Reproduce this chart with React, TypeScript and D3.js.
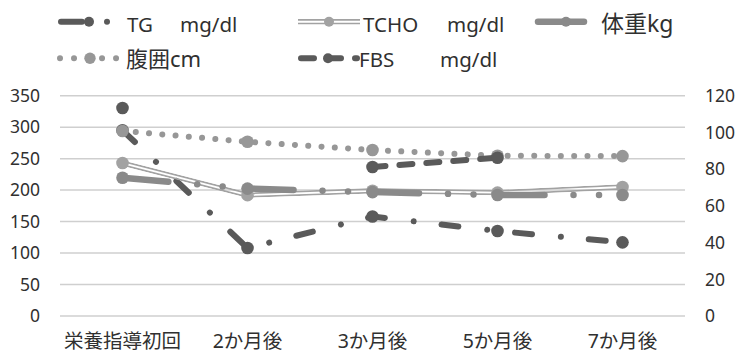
import React from "react";
import * as d3 from "d3";

// x categories and series values
const categories = ["栄養指導初回", "2か月後", "3か月後", "5か月後", "7か月後"];
const tgValues = [295, 108, 158, 135, 117]; // left axis
const tchoValues = [243, 192, 199, 196, 205]; // left axis
const weightValues = [75.3, 69.4, 67.5, 65.9, 65.9]; // right axis
const waistValues = [100.8, 94.9, 90.4, 87.3, 87.1]; // right axis
const fbsValues: (number | null)[] = [113.3, null, 81.2, 86.2, null]; // right axis
const leftTicks = [0, 50, 100, 150, 200, 250, 300, 350];
const rightTicks = [0, 20, 40, 60, 80, 100, 120];

const W = 736;
const H = 355;
const plot = { left: 60, right: 685, top: 95.7, bottom: 316 };

const DARK = "#5a5a5a";
const TCHO_C = "#a2a2a2";
const WEIGHT_C = "#8a8a8a";
const WAIST_C = "#979797";
const TEXT_C = "#303030";
const FONT = "'Noto Sans', 'Noto Sans CJK JP', sans-serif";

type Series = {
  key: string;
  values: (number | null)[];
  axis: "left" | "right";
  color: string;
  width: number;
  dash: string | null;
  double?: boolean;
};

// drawing order as in the original (primary axis first)
const series: Series[] = [
  { key: "tg", values: tgValues, axis: "left", color: DARK, width: 6, dash: "17 29 0.01 28" },
  { key: "tcho", values: tchoValues, axis: "left", color: TCHO_C, width: 5, dash: null, double: true },
  { key: "weight", values: weightValues, axis: "right", color: WEIGHT_C, width: 6.5, dash: "46 29 0.01 25.5 0.01 25" },
  { key: "waist", values: waistValues, axis: "right", color: WAIST_C, width: 6, dash: "0.01 13.3" },
  { key: "fbs", values: fbsValues, axis: "right", color: DARK, width: 6, dash: "13 14" },
];

function DoubleLine({ id, d, color }: { id: string; d: string; color: string }) {
  return (
    <g>
      <mask id={id} maskUnits="userSpaceOnUse" x={0} y={0} width={W} height={H}>
        <path d={d} fill="none" stroke="white" strokeWidth={5.4} strokeLinejoin="round" />
        <path d={d} fill="none" stroke="black" strokeWidth={1.9} strokeLinejoin="round" />
      </mask>
      <path d={d} fill="none" stroke={color} strokeWidth={5.4} strokeLinejoin="round" mask={`url(#${id})`} />
    </g>
  );
}

export default function App() {
  const x = d3.scaleBand<string>().domain(categories).range([plot.left, plot.right]);
  const cx = (i: number) => (x(categories[i]) as number) + x.bandwidth() / 2;
  const yLeft = d3.scaleLinear().domain([0, 350]).range([plot.bottom, plot.top]);
  const yRight = d3.scaleLinear().domain([0, 120]).range([plot.bottom, plot.top]);

  const lineFor = (s: Series) => {
    const y = s.axis === "left" ? yLeft : yRight;
    return d3
      .line<number | null>()
      .defined((v) => v != null)
      .x((_, i) => cx(i))
      .y((v) => y(v as number))(s.values) as string;
  };

  // legend entries
  const legend = [
    { s: series[0], x1: 61, x2: 117, y: 21.7, mx: 89, dash: "21 25 0.01 40", r: 5, texts: [["TG", 127], ["mg/dl", 180]], size: 20.5, ty: 32 },
    { s: series[1], x1: 298, x2: 360, y: 21.7, mx: 329, dash: null, r: 5, texts: [["TCHO", 363], ["mg/dl", 447]], size: 20.5, ty: 32 },
    { s: series[2], x1: 538, x2: 590, y: 21.7, mx: 566, dash: "46 29 0.01 25", r: 5, texts: [["体重kg", 601]], size: 23, ty: 32 },
    { s: series[3], x1: 60, x2: 117, y: 58.3, mx: 90, dash: "0.01 14", r: 5.7, texts: [["腹囲cm", 126]], size: 22, ty: 66.5 },
    { s: series[4], x1: 301, x2: 357, y: 58.3, mx: 328, dash: "13 14", r: 5, texts: [["FBS", 359], ["mg/dl", 440]], size: 20.5, ty: 66.5 },
  ];

  return (
    <svg width={W} height={H} style={{ position: "absolute", left: 0, top: 0, background: "#fff" }} fontFamily={FONT}>
      <rect width={W} height={H} fill="#fff" />

      {/* gridlines */}
      {leftTicks.map((t) => (
        <line key={t} x1={plot.left} x2={plot.right} y1={yLeft(t)} y2={yLeft(t)} stroke="#cfcfcf" strokeWidth={1.5} />
      ))}

      {/* left axis labels */}
      {leftTicks.map((t) => (
        <text key={t} x={40} y={yLeft(t)} dy="0.36em" textAnchor="end" fontSize={17.5} fill={TEXT_C}>
          {t}
        </text>
      ))}
      {/* right axis labels */}
      {rightTicks.map((t) => (
        <text key={t} x={705} y={yRight(t)} dy="0.36em" textAnchor="start" fontSize={17.5} fill={TEXT_C}>
          {t}
        </text>
      ))}
      {/* category labels */}
      {categories.map((c, i) => (
        <text key={c} x={cx(i)} y={348} textAnchor="middle" fontSize={19.5} fill={TEXT_C}>
          {c}
        </text>
      ))}

      {/* series */}
      {series.map((s) => {
        const y = s.axis === "left" ? yLeft : yRight;
        const d = lineFor(s);
        return (
          <g key={s.key}>
            {s.double ? (
              <DoubleLine id={`dbl-${s.key}`} d={d} color={s.color} />
            ) : (
              <path
                d={d}
                fill="none"
                stroke={s.color}
                strokeWidth={s.width}
                strokeDasharray={s.dash ?? undefined}
                strokeLinecap="round"
                strokeLinejoin="round"
              />
            )}
            {s.values.map((v, i) =>
              v == null ? null : <circle key={i} cx={cx(i)} cy={y(v)} r={6.3} fill={s.color} />
            )}
          </g>
        );
      })}

      {/* legend */}
      {legend.map((l) => {
        const d = `M${l.x1},${l.y}L${l.x2},${l.y}`;
        return (
          <g key={l.s.key}>
            {l.s.double ? (
              <DoubleLine id={`leg-${l.s.key}`} d={d} color={l.s.color} />
            ) : (
              <path
                d={d}
                fill="none"
                stroke={l.s.color}
                strokeWidth={l.s.width}
                strokeDasharray={l.dash ?? undefined}
                strokeLinecap="round"
              />
            )}
            <circle cx={l.mx} cy={l.y} r={l.r} fill={l.s.color} />
            {l.texts.map(([t, tx]) => (
              <text key={t as string} x={tx as number} y={l.ty} fontSize={l.size} fill={TEXT_C}>
                {t}
              </text>
            ))}
          </g>
        );
      })}
    </svg>
  );
}
